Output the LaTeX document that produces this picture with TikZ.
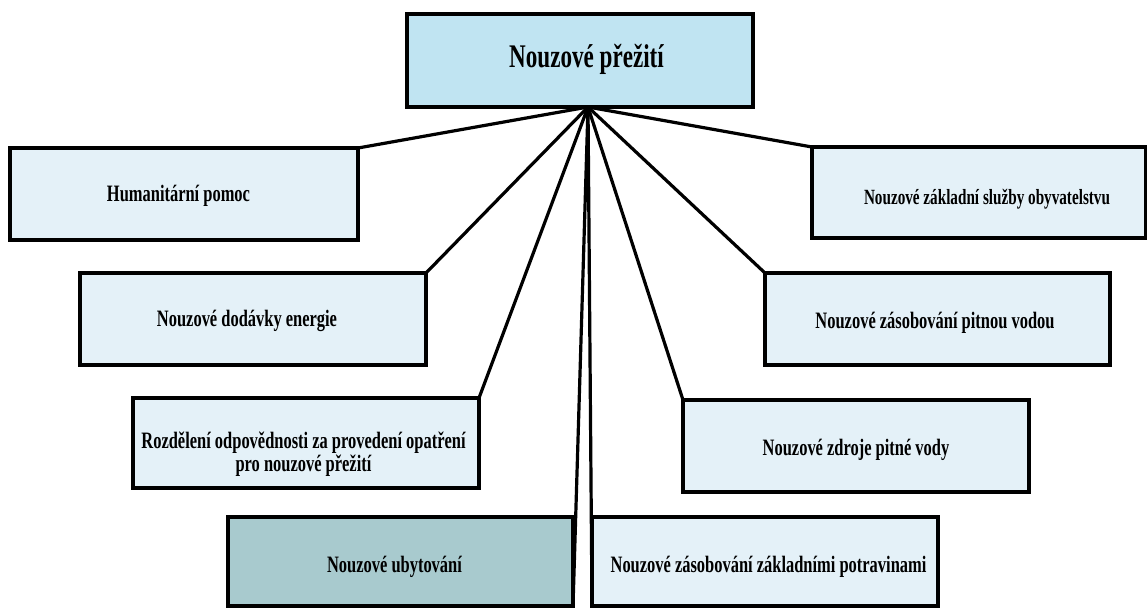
\documentclass[tikz,border=0pt]{standalone}
\usepackage{fontspec}
\newfontfamily\boxfont[FakeStretch=0.70]{Liberation Serif}
\definecolor{topfill}{RGB}{192,228,242}
\definecolor{boxfill}{RGB}{228,241,248}
\definecolor{darkfill}{RGB}{168,202,206}
\begin{document}
\begin{tikzpicture}[x=1pt,y=-1pt,
  box/.style={draw=black,line width=3.4pt,fill=boxfill,rectangle,inner sep=0pt,outer sep=0pt},
  lbl/.style={inner sep=0pt,outer sep=0pt,font=\boxfont\bfseries\fontsize{23.5}{19.3}\selectfont,text=black},
  conn/.style={draw=black,line width=3.2pt,line cap=round}]
\useasboundingbox (0,0) rectangle (1147,608);
% boxes
\node[box,fill=topfill,minimum width=346pt,minimum height=93pt] (title) at (580,60.5) {};
\node[box,minimum width=348pt,minimum height=92pt] (hum) at (184,194) {};
\node[box,minimum width=346pt,minimum height=92pt] (dod) at (253,319) {};
\node[box,minimum width=346pt,minimum height=90pt] (rozd) at (306,443) {};
\node[box,fill=darkfill,minimum width=345pt,minimum height=89pt] (ubyt) at (400.5,561.5) {};
\node[box,minimum width=346pt,minimum height=89pt] (potr) at (765,561.5) {};
\node[box,minimum width=346pt,minimum height=92pt] (zdroj) at (856,446) {};
\node[box,minimum width=345pt,minimum height=92pt] (pitn) at (937.5,319) {};
\node[box,minimum width=334pt,minimum height=91pt] (sluz) at (979,192.5) {};
% hub
\coordinate (hub) at (588,107);
% connectors
\draw[conn] (hub) -- (hum.north east);
\draw[conn] (hub) -- (dod.north east);
\draw[conn] (hub) -- (rozd.north east);
\draw[conn] (hub) -- (ubyt.south east);
\draw[conn] (hub) -- (potr.south west);
\draw[conn] (hub) -- (zdroj.north west);
\draw[conn] (hub) -- (pitn.north west);
\draw[conn] (hub) -- (sluz.north west);
% labels
\node[lbl,anchor=base,font=\boxfont\bfseries\fontsize{33}{36}\selectfont] (titlet) at (586.5,67) {Nouzové přežití};
\node[lbl,anchor=base] (humt) at (178.5,201) {Humanitární pomoc};
\node[lbl,anchor=base] (dodt) at (247,326.7) {Nouzové dodávky energie};
\node[lbl,anchor=base,align=center] (rozdt) at (303.5,471) {Rozdělení odpovědnosti za provedení opatření\\pro nouzové přežití};
\node[lbl,anchor=base] (ubytt) at (394.5,572) {Nouzové ubytování};
\node[lbl,anchor=base] (potrt) at (768.5,572.7) {Nouzové zásobování základními potravinami};
\node[lbl,anchor=base] (zdrojt) at (856,455) {Nouzové zdroje pitné vody};
\node[lbl,anchor=base] (pitnt) at (935,328.3) {Nouzové zásobování pitnou vodou};
\node[lbl,anchor=base,font=\boxfont\bfseries\fontsize{21.7}{19}\selectfont] (sluzt) at (987,204) {Nouzové základní služby obyvatelstvu};
\end{tikzpicture}
\end{document}
